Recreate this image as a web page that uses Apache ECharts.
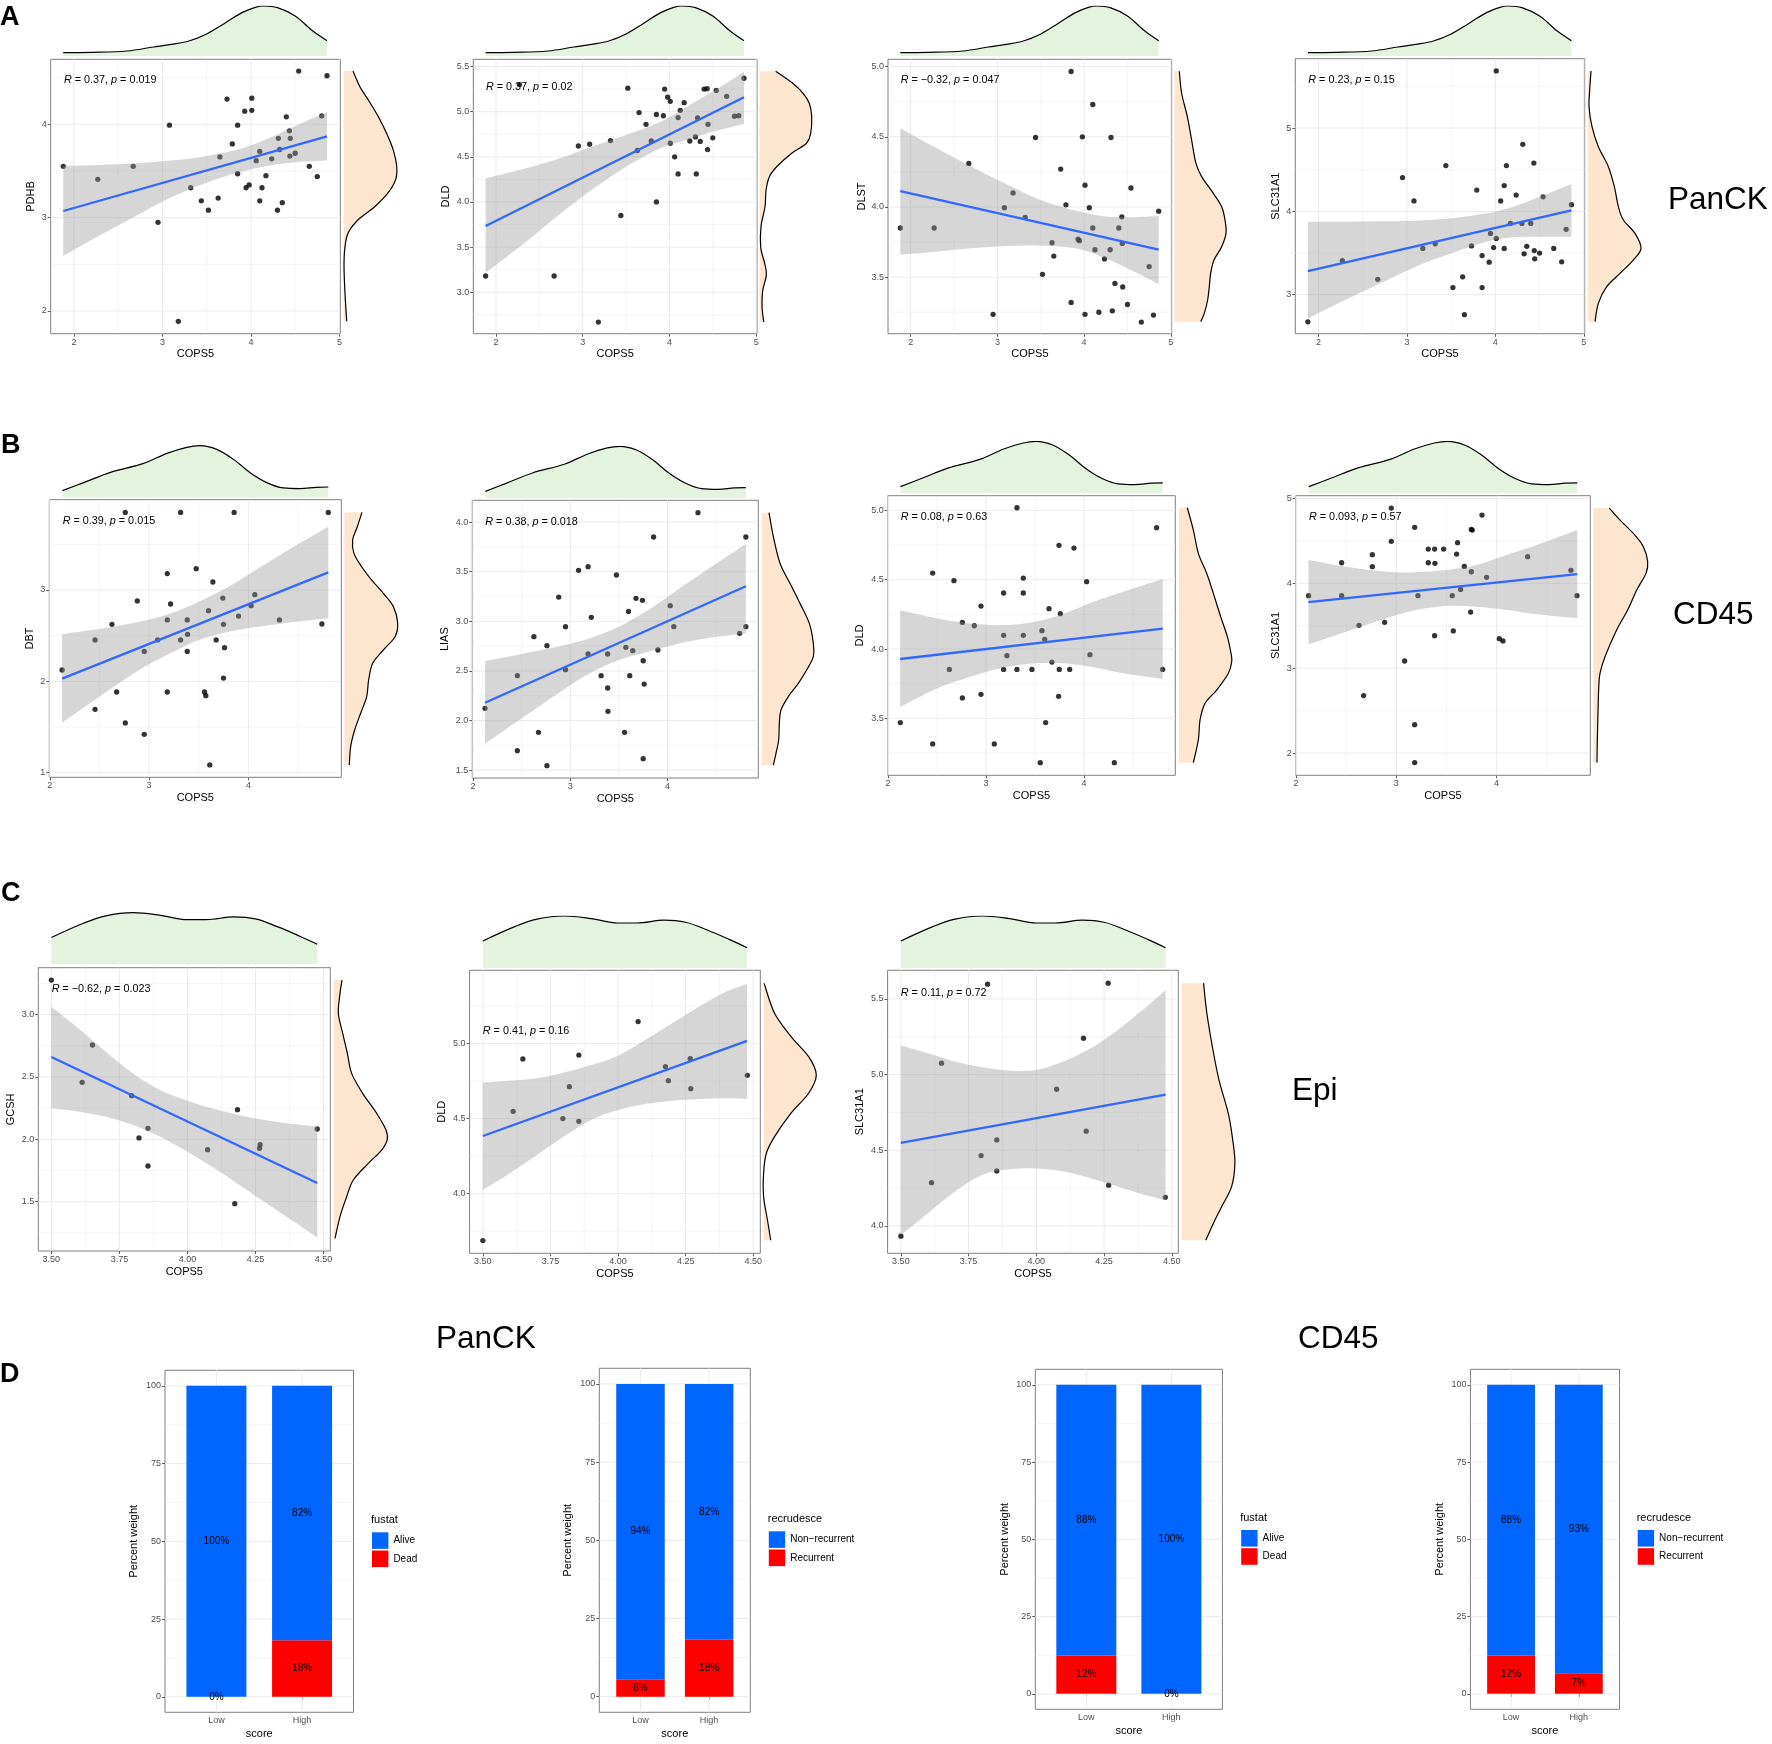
<!DOCTYPE html>
<html><head><meta charset="utf-8">
<style>html,body{margin:0;padding:0;background:#fff}#c{width:1772px;height:1744px}</style>
<script src="https://cdn.jsdelivr.net/npm/echarts@6/dist/echarts.min.js"></script>
</head><body><div id="c"></div>
<script>
// ---------- DATA: panel A (PanCK) ----------
const xA=[1.88,2.27,2.67,2.95,3.08,3.18,3.32,3.44,3.52,3.63,3.65,3.73,3.79,3.85,3.85,3.93,3.945,3.98,4.01,4.01,4.06,4.10,4.10,4.125,4.17,4.235,4.30,4.31,4.325,4.355,4.40,4.435,4.44,4.445,4.50,4.54,4.66,4.75,4.80,4.86];
const yPDHB=[3.55,3.41,3.55,2.95,3.99,1.89,3.32,3.18,3.08,3.21,3.65,4.27,3.79,3.99,3.47,4.14,3.32,3.35,4.28,4.15,3.61,3.71,3.18,3.32,3.45,3.63,3.08,3.85,3.73,3.16,4.08,3.93,3.66,3.85,3.69,4.57,3.55,3.44,4.09,4.52];
const yDLD_A=[3.18,5.30,3.18,4.62,4.64,2.67,4.68,3.85,5.26,4.57,4.99,4.86,4.675,4.97,4.00,4.955,5.25,5.16,5.115,4.65,4.50,4.935,4.31,5.015,5.10,4.675,4.72,4.31,4.93,4.67,5.25,5.255,4.58,4.86,4.71,5.235,5.17,4.95,4.955,5.37];
const yDLST=[3.85,3.85,4.31,3.235,3.995,4.10,3.925,4.495,3.52,3.745,3.65,4.27,4.015,4.965,3.32,3.77,3.76,4.50,4.155,3.235,3.995,4.73,3.85,3.695,3.25,3.63,3.695,4.495,3.26,3.455,3.85,3.93,3.74,3.43,3.305,4.135,3.18,3.575,3.23,3.97];
const ySLC_A=[2.675,3.41,3.185,4.405,4.125,3.555,3.61,4.55,3.085,3.215,2.76,3.585,4.255,3.47,3.085,3.39,3.735,3.565,5.685,3.675,4.125,4.31,3.555,4.55,3.855,4.195,3.855,4.805,3.49,3.58,3.855,4.58,3.53,3.43,3.50,4.175,3.555,3.395,3.785,4.08];
const ciXA=[1.88,2.3,2.7,3.1,3.5,3.9,4.2,4.5,4.86];
const hiA1=[3.554,3.564,3.582,3.611,3.661,3.743,3.85,3.982,4.129];
const loA1=[2.589,2.814,3.018,3.218,3.375,3.493,3.557,3.593,3.611];
const hiA2=[4.261,4.361,4.472,4.612,4.742,4.889,5.055,5.222,5.443];
const loA2=[3.216,3.523,3.837,4.132,4.391,4.594,4.686,4.778,4.863];
const hiA3=[4.561,4.418,4.287,4.164,4.05,3.974,3.936,3.926,3.936];
const loA3=[3.658,3.682,3.705,3.722,3.724,3.705,3.646,3.563,3.451];
const hiA4=[3.876,3.876,3.88,3.888,3.916,3.976,4.056,4.176,4.328];
const loA4=[2.716,2.936,3.136,3.336,3.496,3.636,3.688,3.696,3.696];
const fitA1=[3.071,3.871], fitA2=[3.733,5.159], fitA3=[4.112,3.696], fitA4=[3.284,4.012];
const topXA=[1.88,2.2,2.6,2.9,3.1,3.3,3.5,3.7,3.9,4.05,4.15,4.3,4.5,4.7,4.86];
const topDA=[0.067,0.073,0.10,0.18,0.233,0.30,0.44,0.65,0.867,0.973,1.0,0.967,0.80,0.50,0.307];
const rYA1=[4.57,4.40,4.26,4.08,3.90,3.72,3.55,3.41,3.27,3.12,2.98,2.84,2.69,2.48,2.19,1.89];
const rDA1=[0.176,0.308,0.465,0.654,0.811,0.937,1.0,0.981,0.843,0.591,0.277,0.088,0.025,0.006,0.025,0.057];
const rYA2=[5.447,5.31,5.20,5.09,4.945,4.76,4.65,4.54,4.39,4.28,4.13,3.95,3.73,3.50,3.32,3.19,3.02,2.84,2.67];
const rDA2=[0.308,0.647,0.84,0.955,1.0,0.98,0.90,0.615,0.327,0.186,0.122,0.103,0.026,0.019,0.096,0.128,0.058,0.045,0.077];
const rYA3=[4.967,4.81,4.644,4.477,4.31,4.216,4.097,4.002,3.907,3.812,3.717,3.622,3.527,3.432,3.337,3.242,3.183];
const rDA3=[0.097,0.142,0.252,0.335,0.419,0.529,0.755,0.916,0.981,1.0,0.916,0.768,0.703,0.677,0.645,0.58,0.51];
const rYA4=[5.684,5.456,5.256,5.016,4.776,4.536,4.296,4.056,3.896,3.736,3.556,3.416,3.256,3.096,2.896,2.676];
const rDA4=[0.0625,0.0375,0.025,0.081,0.2,0.3875,0.5,0.575,0.669,0.888,1.0,0.856,0.606,0.356,0.2,0.1375];

// ---------- DATA: panel B (CD45) ----------
const xB1=[2.124,2.456,2.456,2.626,2.673,2.76,2.76,2.881,2.951,2.951,3.085,3.183,3.183,3.183,3.216,3.317,3.317,3.384,3.384,3.387,3.474,3.558,3.571,3.598,3.611,3.642,3.675,3.742,3.749,3.749,3.759,3.856,3.9,4.027,4.064,4.312,4.74,4.804];
const yDBT=[2.124,2.453,1.693,2.624,1.883,3.85,1.544,2.88,2.328,1.42,2.453,2.672,3.18,1.883,2.847,3.85,2.453,2.672,2.328,2.515,3.234,1.883,1.843,2.774,1.084,3.088,2.453,2.912,2.624,2.036,2.369,3.85,2.715,2.828,2.949,2.672,2.628,3.85];
const xB2=[2.124,2.456,2.456,2.626,2.673,2.76,2.76,2.881,2.951,2.951,3.085,3.183,3.183,3.216,3.317,3.384,3.384,3.387,3.474,3.558,3.571,3.598,3.611,3.642,3.675,3.742,3.749,3.749,3.759,3.856,3.9,4.027,4.064,4.312,4.74,4.804,4.804];
const yLIAS=[2.123,2.452,1.696,2.845,1.881,2.755,1.545,3.245,2.946,2.513,3.514,3.551,2.671,3.04,2.452,2.671,2.328,2.093,3.467,1.881,2.738,3.10,2.452,2.704,3.232,3.212,2.603,1.616,2.368,3.85,2.711,3.158,2.946,4.095,2.879,3.85,2.946];
const xB3=[2.126,2.456,2.456,2.626,2.673,2.759,2.759,2.881,2.949,2.949,3.085,3.18,3.18,3.18,3.214,3.316,3.316,3.381,3.381,3.381,3.469,3.554,3.571,3.599,3.609,3.643,3.673,3.745,3.748,3.741,3.759,3.854,3.898,4.027,4.061,4.31,4.741,4.803];
const yDLD_B=[3.469,4.548,3.315,3.853,4.493,4.192,3.647,4.168,4.31,3.673,3.315,4.404,4.099,3.853,3.952,5.019,3.853,4.512,4.404,4.099,3.853,3.18,4.132,4.07,3.469,4.291,3.906,4.748,3.853,3.659,4.255,3.853,4.728,4.486,3.959,3.18,4.875,3.853];
const xB4=[2.126,2.455,2.455,2.628,2.674,2.761,2.761,2.884,2.95,2.95,3.083,3.183,3.183,3.183,3.216,3.319,3.319,3.382,3.385,3.382,3.472,3.558,3.568,3.601,3.611,3.641,3.678,3.741,3.748,3.757,3.748,3.854,3.9,4.027,4.063,4.309,4.741,4.801];
const ySLC_B=[3.855,4.243,3.855,3.505,2.677,4.338,4.196,3.541,4.887,4.495,3.085,4.66,2.335,1.888,3.855,4.404,4.243,4.404,4.236,3.384,4.404,3.855,3.439,4.345,4.479,3.929,4.2,3.662,4.636,4.628,4.137,4.805,4.071,3.348,3.321,4.314,4.153,3.855];
const ciXB=[2.124,2.5,2.9,3.2,3.5,3.8,4.1,4.4,4.804];
const hiB1=[2.518,2.573,2.653,2.737,2.872,3.036,3.237,3.438,3.693];
const loB1=[1.547,1.832,2.124,2.299,2.453,2.544,2.599,2.642,2.69];
const hiB2=[2.6,2.671,2.751,2.829,2.946,3.114,3.316,3.517,3.78];
const loB2=[1.763,2.022,2.291,2.476,2.61,2.694,2.772,2.829,2.879];
const hiB3=[4.279,4.221,4.18,4.173,4.197,4.257,4.341,4.413,4.505];
const loB3=[3.582,3.716,3.813,3.868,3.897,3.897,3.868,3.825,3.784];
const hiB4=[4.275,4.196,4.137,4.13,4.157,4.216,4.334,4.452,4.628];
const loB4=[3.281,3.431,3.589,3.686,3.733,3.725,3.686,3.635,3.588];
const fitB1=[2.029,3.193], fitB2=[2.18,3.353], fitB3=[3.928,4.147], fitB4=[3.78,4.11];
const topXB=[2.127,2.34,2.61,2.945,3.18,3.38,3.51,3.68,3.85,4.017,4.185,4.35,4.52,4.685,4.804];
const topDB=[0.129,0.284,0.484,0.658,0.852,0.968,1.0,0.929,0.735,0.477,0.284,0.181,0.168,0.194,0.2];
const rYB1=[3.85,3.693,3.547,3.401,3.255,3.109,2.964,2.818,2.635,2.489,2.343,2.197,2.015,1.832,1.65,1.467,1.285,1.084];
const rDB1=[0.331,0.244,0.156,0.181,0.325,0.513,0.731,0.919,1.0,0.95,0.731,0.531,0.456,0.419,0.306,0.194,0.119,0.094];
const rYB2=[4.095,3.853,3.585,3.383,3.181,2.98,2.778,2.644,2.509,2.375,2.241,2.106,1.972,1.804,1.669,1.55];
const rDB2=[0.142,0.226,0.355,0.548,0.742,0.923,1,1,0.871,0.71,0.516,0.374,0.342,0.329,0.277,0.226];
const rYB3=[5.019,4.858,4.69,4.546,4.401,4.233,4.089,3.969,3.909,3.825,3.704,3.608,3.488,3.344,3.18];
const rDB3=[0.158,0.272,0.367,0.525,0.652,0.791,0.918,0.987,1.0,0.937,0.715,0.494,0.399,0.367,0.272];
const rYB4=[4.887,4.746,4.589,4.432,4.255,4.118,3.921,3.686,3.45,3.136,2.94,2.744,2.469,2.155,1.888];
const rDB4=[0.294,0.491,0.736,0.92,1.0,0.969,0.798,0.632,0.429,0.215,0.123,0.098,0.086,0.074,0.067];

// ---------- DATA: panel C (Epi) ----------
const xC=[3.50,3.613,3.651,3.795,3.822,3.855,3.855,4.074,4.174,4.184,4.265,4.267,4.477];
const yGCSH=[3.278,2.457,2.757,2.35,2.011,2.088,1.786,1.917,1.484,2.238,1.928,1.957,2.083];
const xC2=[3.50,3.612,3.648,3.796,3.82,3.855,3.855,4.074,4.175,4.186,4.267,4.269,4.478];
const yDLD_C=[3.687,4.549,4.898,4.5,4.713,4.924,4.482,5.147,4.847,4.753,4.9,4.7,4.789];
const xC3=[3.50,3.613,3.65,3.796,3.82,3.854,3.854,4.075,4.174,4.184,4.265,4.267,4.476];
const ySLC_C=[3.932,4.286,5.075,4.465,5.597,4.568,4.363,4.903,5.24,4.626,5.604,4.269,4.189];
const ciXC=[3.5,3.6,3.7,3.8,3.9,4.0,4.1,4.2,4.3,4.4,4.477];
const hiC1=[3.064,2.89,2.703,2.529,2.396,2.31,2.243,2.19,2.15,2.12,2.102];
const loC1=[2.249,2.222,2.182,2.115,2.021,1.901,1.767,1.62,1.473,1.326,1.211];
const hiC2=[4.74,4.753,4.769,4.807,4.858,4.92,5.024,5.136,5.247,5.347,5.398];
const loC2=[4.024,4.136,4.258,4.38,4.491,4.558,4.598,4.62,4.631,4.636,4.631];
const hiC3=[5.192,5.141,5.086,5.048,5.026,5.031,5.086,5.174,5.295,5.438,5.559];
const loC3=[3.941,4.084,4.227,4.337,4.374,4.379,4.359,4.315,4.26,4.205,4.172];
const fitC1=[2.66,1.65], fitC2=[4.384,5.018], fitC3=[4.548,4.868];
const topXC=[3.5,3.62,3.70,3.8,3.9,4.0,4.07,4.17,4.25,4.33,4.415,4.477];
const topDC=[0.52,0.80,0.94,1.0,0.95,0.865,0.865,0.92,0.88,0.73,0.54,0.39];
const rYC1=[3.278,3.171,3.011,2.85,2.69,2.529,2.369,2.209,2.075,2.0,1.914,1.807,1.674,1.54,1.38,1.206];
const rDC1=[0.155,0.118,0.087,0.168,0.255,0.335,0.54,0.801,0.975,1,0.894,0.646,0.366,0.242,0.118,0.025];
const rYC2=[5.402,5.202,5.047,4.913,4.791,4.669,4.536,4.38,4.269,4.136,3.98,3.824,3.689];
const rDC2=[0.01,0.208,0.521,0.854,1,0.854,0.521,0.208,0.052,0,0,0.073,0.135];
const rYC3=[5.604,5.405,5.185,4.965,4.744,4.568,4.414,4.26,4.128,4.018,3.905];
const rDC3=[0.412,0.474,0.577,0.701,0.876,0.959,1.0,0.938,0.753,0.598,0.454];

// ---------- DATA: panel D (stacked bars) ----------
const scoreCategories=['Low','High'];
const fustatNames=['Alive','Dead'];
const recurNames=['Non\u2212recurrent','Recurrent'];
const panck_alive=[100,81.8], panck_dead=[0,18.2];
const panck_nonrec=[94.4,81.8], panck_rec=[5.6,18.2];
const cd45_alive=[87.6,100], cd45_dead=[12.4,0];
const cd45_nonrec=[87.6,93.3], cd45_rec=[12.4,6.7];

// ---------- helpers ----------
const FONT='"Liberation Sans",Arial,sans-serif';
const grid=[],xAxis=[],yAxis=[],series=[],legend=[],graphic=[];
function ticks(from,to,step){const a=[];for(let v=from;v<=to+1e-9;v+=step)a.push(+v.toFixed(3));return a;}
function minors(t,r){const s=t[1]-t[0],o=[];for(let v=t[0]-s/2;v<r[1];v+=s)if(v>r[0])o.push(+v.toFixed(4));return o;}
function catmull(p){let d='';for(let i=0;i<p.length-1;i++){const a=p[Math.max(i-1,0)],b=p[i],c=p[i+1],e=p[Math.min(i+2,p.length-1)];
 d+=`C${b[0]+(c[0]-a[0])/6} ${b[1]+(c[1]-a[1])/6} ${c[0]-(e[0]-b[0])/6} ${c[1]-(e[1]-b[1])/6} ${c[0]} ${c[1]}`;}return d;}
function hiddenAxis(gi,min,max){return {gridIndex:gi,type:'value',min,max,show:false,splitLine:{show:false}};}
function mainAxis(gi,r,t,dec,name,gap){return {gridIndex:gi,type:'value',min:r[0],max:r[1],
 name,nameLocation:'middle',nameGap:gap,nameTextStyle:{fontSize:11,color:'#000',fontFamily:FONT},
 axisLine:{show:false},splitLine:{show:false},minorTick:{show:false},
 axisTick:{show:true,length:3,lineStyle:{color:'#333',width:0.8},customValues:t},
 axisLabel:{show:true,customValues:t,fontSize:9,color:'#4D4D4D',margin:4,fontFamily:FONT,showMinLabel:true,showMaxLabel:true,
   formatter:v=>(+v).toFixed(dec)}};}
function addGridlines(gi,xr,yr,xMaj,xMin,yMaj,yMin){
 const lines=[];
 xMin.forEach(v=>lines.push([v,yr[0],v,yr[1],0]));yMin.forEach(v=>lines.push([xr[0],v,xr[1],v,0]));
 xMaj.forEach(v=>lines.push([v,yr[0],v,yr[1],1]));yMaj.forEach(v=>lines.push([xr[0],v,xr[1],v,1]));
 series.push({type:'custom',name:'grid',xAxisIndex:gi,yAxisIndex:gi,z:1,silent:true,data:lines,
  renderItem(p,api){const a=api.coord([api.value(0),api.value(1)]),b=api.coord([api.value(2),api.value(3)]);
   return {type:'line',shape:{x1:a[0],y1:a[1],x2:b[0],y2:b[1]},style:{stroke:'#EBEBEB',lineWidth:api.value(4)?1:0.5}};}});
}
function scatterPanel(c){
 const [L,T,R,B]=c.rect;const gi=grid.length;
 grid.push({left:L,top:T,width:R-L,height:B-T,show:true,backgroundColor:'#fff',borderColor:'#7F7F7F',borderWidth:1,containLabel:false});
 xAxis.push(mainAxis(gi,c.xr,c.xt,c.xDec,'COPS5',c.xGap||15));
 yAxis.push(mainAxis(gi,c.yr,c.yt,c.yDec,c.yName,c.yGap));
 addGridlines(gi,c.xr,c.yr,c.xt,minors(c.xt,c.xr),c.yt,minors(c.yt,c.yr));
 series.push({type:'scatter',name:c.yName,xAxisIndex:gi,yAxisIndex:gi,z:2,silent:true,symbolSize:5.3,itemStyle:{color:'#000'},
   data:c.x.map((v,i)=>[v,c.y[i]])});
 series.push({type:'custom',name:'CI',xAxisIndex:gi,yAxisIndex:gi,z:3,silent:true,data:[[c.ciX[0],c.hi[0]]],
   renderItem(p,api){const up=c.ciX.map((v,i)=>api.coord([v,c.hi[i]])),dn=c.ciX.map((v,i)=>api.coord([v,c.lo[i]])).reverse();
    const d=`M${up[0][0]} ${up[0][1]}`+catmull(up)+`L${dn[0][0]} ${dn[0][1]}`+catmull(dn)+'Z';
    return {type:'path',shape:{pathData:d},style:{fill:'#999999',opacity:0.4}};}});
 series.push({type:'line',name:'fit',xAxisIndex:gi,yAxisIndex:gi,z:4,silent:true,symbol:'none',lineStyle:{color:'#3366FF',width:2.3},
   data:[[c.ciX[0],c.fit[0]],[c.ciX[c.ciX.length-1],c.fit[1]]]});
 // top density
 const gt=grid.length;
 grid.push({left:L,top:c.topBox[0],width:R-L,height:c.topBox[1]-c.topBox[0],show:false});
 xAxis.push(hiddenAxis(gt,c.xr[0],c.xr[1]));yAxis.push(hiddenAxis(gt,0,1));
 series.push({type:'line',name:'COPS5 density',xAxisIndex:gt,yAxisIndex:gt,z:2,silent:true,symbol:'none',smooth:0.35,
   lineStyle:{color:'#000',width:1.2},areaStyle:{color:'#E3F3DE',opacity:1},data:c.topX.map((v,i)=>[v,c.topD[i]])});
 // right density
 const gr=grid.length;
 grid.push({left:c.rightBox[0],top:T,width:c.rightBox[1]-c.rightBox[0],height:B-T,show:false});
 xAxis.push(hiddenAxis(gr,0,1));yAxis.push(hiddenAxis(gr,c.yr[0],c.yr[1]));
 series.push({type:'custom',name:c.yName+' density',xAxisIndex:gr,yAxisIndex:gr,z:2,silent:true,data:[[0,c.rY[0]]],
   renderItem(p,api){const pts=c.rY.map((v,i)=>api.coord([c.rD[i],v]));const n=pts.length;
    const a=api.coord([0,c.rY[0]]),b=api.coord([0,c.rY[n-1]]);
    const curve=`M${pts[0][0]} ${pts[0][1]}`+catmull(pts);
    const fill=`M${a[0]} ${a[1]}L${pts[0][0]} ${pts[0][1]}`+catmull(pts)+`L${b[0]} ${b[1]}Z`;
    return {type:'group',children:[
      {type:'path',shape:{pathData:fill},style:{fill:'#FEE5D0',stroke:null}},
      {type:'path',shape:{pathData:curve},style:{fill:null,stroke:'#000',lineWidth:1.2}}]};}});
 // correlation text
 graphic.push({type:'text',z:50,style:{x:c.stat[0],y:c.stat[1]+0.7,text:`{i|R} = ${c.stat[2]}, {i|p} = ${c.stat[3]}`,
   fontSize:10.8,fontFamily:FONT,fill:'#000',verticalAlign:'middle',
   rich:{i:{fontStyle:'italic',fontSize:10.8,fontFamily:FONT,fill:'#000'}}}});
}
function barPanel(c){
 const [L,T,R,B]=c.rect,W=R-L,H=B-T;const gi=grid.length,xr=[0.4,2.6],yr=[-5,105],yt=[0,25,50,75,100];
 // frame grid: border, gridlines, percent axis
 grid.push({left:L,top:T,width:W,height:H,show:true,backgroundColor:'#fff',borderColor:'#7F7F7F',borderWidth:1});
 xAxis.push(hiddenAxis(gi,xr[0],xr[1]));
 yAxis.push(mainAxis(gi,yr,yt,0,'Percent weight',c.yGap));
 addGridlines(gi,xr,yr,[1,2],[],yt,minors(yt,yr));
 // bar grid: the two categories span 0.5..2.5 of the 0.4..2.6 discrete range
 const go=grid.length,inset=W*(0.1/2.2);
 grid.push({left:L+inset,top:T,width:W-2*inset,height:H,show:false});
 xAxis.push({gridIndex:go,type:'category',data:scoreCategories,name:'score',nameLocation:'middle',nameGap:16,
   nameTextStyle:{fontSize:11,color:'#000',fontFamily:FONT},axisLine:{show:false},splitLine:{show:false},
   axisTick:{show:true,alignWithLabel:true,length:3,lineStyle:{color:'#333',width:0.8}},
   axisLabel:{fontSize:9,color:'#4D4D4D',margin:4,fontFamily:FONT}});
 yAxis.push(hiddenAxis(go,yr[0],yr[1]));
 const mk=(name,vals,col)=>({type:'bar',name,stack:'s'+go,xAxisIndex:go,yAxisIndex:go,z:2,silent:true,barWidth:c.bw,
   itemStyle:{color:col},data:vals,
   label:{show:true,position:'inside',fontSize:10,color:'#000',fontFamily:FONT,formatter:p=>Math.round(p.value)+'%'}});
 series.push(mk(c.names[1],c.low,'#FF0000'),mk(c.names[0],c.top,'#0066FF'));
 legend.push({show:true,data:c.names,orient:'vertical',left:c.leg[0],top:c.leg[1],itemWidth:16.4,itemHeight:16.6,itemGap:1.6,icon:'rect',
   selectedMode:false,padding:0,textStyle:{fontSize:10,color:'#000',fontFamily:FONT}});
 graphic.push({type:'text',z:50,style:{x:c.leg[0]-1,y:c.leg[1]-12,text:c.title,fontSize:11,fontFamily:FONT,fill:'#000',verticalAlign:'middle'}});
}

// ---------- layout ----------
const xtA=ticks(2,5,1),xtB=ticks(2,4,1),xtC=ticks(3.5,4.5,0.25);
const xrA=[1.738,5.01];
scatterPanel({rect:[50.7,59.3,340.3,333.7],xr:xrA,yr:[1.757,4.696],xt:xtA,yt:ticks(2,4,1),xDec:0,yDec:0,yName:'PDHB',yGap:14,x:xA,y:yPDHB,ciX:ciXA,hi:hiA1,lo:loA1,fit:fitA1,topX:topXA,topD:topDA,topBox:[6,56],rY:rYA1,rD:rDA1,rightBox:[343.7,396.7],stat:[64,79.3,'0.37','0.019']});
scatterPanel({rect:[473.3,59.3,757,333.7],xr:xrA,yr:[2.541,5.58],xt:xtA,yt:ticks(3,5.5,0.5),xDec:0,yDec:1,yName:'DLD',yGap:21.5,x:xA,y:yDLD_A,ciX:ciXA,hi:hiA2,lo:loA2,fit:fitA2,topX:topXA,topD:topDA,topBox:[6,56],rY:rYA2,rD:rDA2,rightBox:[759.7,811.7],stat:[486,86.7,'0.37','0.02']});
scatterPanel({rect:[888,59.3,1171.7,333.7],xr:xrA,yr:[3.097,5.052],xt:xtA,yt:ticks(3.5,5,0.5),xDec:0,yDec:1,yName:'DLST',yGap:21,x:xA,y:yDLST,ciX:ciXA,hi:hiA3,lo:loA3,fit:fitA3,topX:topXA,topD:topDA,topBox:[6,56],rY:rYA3,rD:rDA3,rightBox:[1174.3,1226],stat:[900.7,79.3,'\u22120.32','0.047']});
scatterPanel({rect:[1295.3,58.7,1584.7,333.7],xr:xrA,yr:[2.532,5.832],xt:xtA,yt:ticks(3,5,1),xDec:0,yDec:0,yName:'SLC31A1',yGap:14,x:xA,y:ySLC_A,ciX:ciXA,hi:hiA4,lo:loA4,fit:fitA4,topX:topXA,topD:topDA,topBox:[6,56],rY:rYA4,rD:rDA4,rightBox:[1587.7,1641],stat:[1308.3,79,'0.23','0.15']});

scatterPanel({rect:[49.3,499.7,341.3,777.3],xr:[1.995,4.935],yr:[0.949,3.989],xt:xtB,yt:ticks(1,3,1),xDec:0,yDec:0,yName:'DBT',yGap:14,x:xB1,y:yDBT,ciX:ciXB,hi:hiB1,lo:loB1,fit:fitB1,topX:topXB,topD:topDB,topBox:[445.7,497.3],rY:rYB1,rD:rDB1,rightBox:[344.3,397.7],stat:[62.7,520.3,'0.39','0.015']});
scatterPanel({rect:[472.3,500.3,758.3,778],xr:[1.993,4.932],yr:[1.421,4.22],xt:xtB,yt:ticks(1.5,4,0.5),xDec:0,yDec:1,yName:'LIAS',yGap:22,x:xB2,y:yLIAS,ciX:ciXB,hi:hiB2,lo:loB2,fit:fitB2,topX:topXB,topD:topDB,topBox:[446.3,498],rY:rYB2,rD:rDB2,rightBox:[761.7,813.3],stat:[485.3,521,'0.38','0.018']});
scatterPanel({rect:[887.7,495.7,1175.3,775.3],xr:[1.997,4.932],yr:[3.089,5.106],xt:xtB,yt:ticks(3.5,5,0.5),xDec:0,yDec:1,yName:'DLD',yGap:22,x:xB3,y:yDLD_B,ciX:ciXB,hi:hiB3,lo:loB3,fit:fitB3,topX:topXB,topD:topDB,topBox:[441.3,493.3],rY:rYB3,rD:rDB3,rightBox:[1179,1231.7],stat:[900.7,516.3,'0.08','0.63']});
scatterPanel({rect:[1295.7,495.7,1590.3,775.3],xr:[1.997,4.934],yr:[1.738,5.033],xt:xtB,yt:ticks(2,5,1),xDec:0,yDec:0,yName:'SLC31A1',yGap:14,x:xB4,y:ySLC_B,ciX:ciXB,hi:hiB4,lo:loB4,fit:fitB4,topX:topXB,topD:topDB,topBox:[441.3,493.3],rY:rYB4,rD:rDB4,rightBox:[1593.3,1647.7],stat:[1309,516.3,'0.093','0.57']});

scatterPanel({rect:[38.3,967.7,330.3,1251],xr:[3.452,4.525],yr:[1.104,3.377],xt:xtC,yt:ticks(1.5,3,0.5),xDec:2,yDec:1,yName:'GCSH',yGap:22,x:xC,y:yGCSH,ciX:ciXC,hi:hiC1,lo:loC1,fit:fitC1,topX:topXC,topD:topDC,topBox:[912.7,964.3],rY:rYC1,rD:rDC1,rightBox:[333.7,387.3],stat:[51.7,988.7,'\u22120.62','0.023']});
scatterPanel({rect:[469.6,970.3,760.3,1253.3],xr:[3.451,4.526],yr:[3.602,5.489],xt:xtC,yt:ticks(4,5,0.5),xDec:2,yDec:1,yName:'DLD',yGap:22,x:xC2,y:yDLD_C,ciX:ciXC,hi:hiC2,lo:loC2,fit:fitC2,topX:topXC,topD:topDC,topBox:[916,968],rY:rYC2,rD:rDC2,rightBox:[763.6,816.3],stat:[482.8,1030,'0.41','0.16']});
scatterPanel({rect:[887.6,970.3,1178.3,1253.3],xr:[3.451,4.524],yr:[3.819,5.689],xt:xtC,yt:ticks(4,5.5,0.5),xDec:2,yDec:1,yName:'SLC31A1',yGap:22,x:xC3,y:ySLC_C,ciX:ciXC,hi:hiC3,lo:loC3,fit:fitC3,topX:topXC,topD:topDC,topBox:[916,968],rY:rYC3,rD:rDC3,rightBox:[1181.6,1234.9],stat:[900.8,992,'0.11','0.72']});

barPanel({rect:[165,1370.3,353.5,1712.3],bw:60,yGap:26,names:fustatNames,top:panck_alive,low:panck_dead,leg:[372,1532.3],title:'fustat'});
barPanel({rect:[599.3,1368.3,750.3,1712.3],bw:48.5,yGap:26,names:recurNames,top:panck_nonrec,low:panck_rec,leg:[768.8,1531.3],title:'recrudesce'});
barPanel({rect:[1035.3,1369.3,1222.4,1709.3],bw:60,yGap:25,names:fustatNames,top:cd45_alive,low:cd45_dead,leg:[1241.2,1530],title:'fustat'});
barPanel({rect:[1470.4,1369.3,1619.5,1709.3],bw:47.8,yGap:25,names:recurNames,top:cd45_nonrec,low:cd45_rec,leg:[1637.7,1530],title:'recrudesce'});

// big letters and group titles (x, baseline y)
const panelLetters=[['A',0,25],['B',1,453],['C',1,901],['D',0,1382]];
const groupTitles=[['PanCK',1668,210],['CD45',1673,625],['Epi',1292,1101],['PanCK',436,1349],['CD45',1298,1349]];
panelLetters.forEach(([t,x,y])=>graphic.push({type:'text',z:50,style:{x,y:y+6,text:t,font:'bold 27px '+FONT,fill:'#000',verticalAlign:'bottom'}}));
groupTitles.forEach(([t,x,y])=>graphic.push({type:'text',z:50,style:{x,y:y+6,text:t,font:'31.5px '+FONT,fill:'#000',verticalAlign:'bottom'}}));

const chart=echarts.init(document.getElementById('c'),null,{width:1772,height:1744});
chart.setOption({animation:false,backgroundColor:'#fff',textStyle:{fontFamily:FONT},grid,xAxis,yAxis,series,legend,graphic:{elements:graphic}});
</script></body></html>
